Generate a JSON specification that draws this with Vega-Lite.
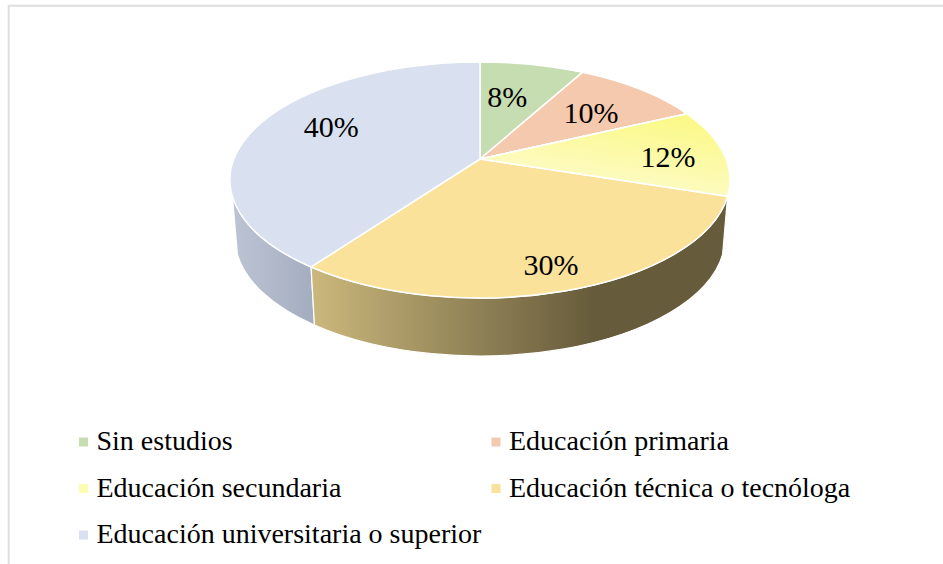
{
"$schema":"https://vega.github.io/schema/vega-lite/v6.json",
"width":935,"height":559,
"autosize":{"type":"none"},
"padding":{"left":8,"top":5,"right":0,"bottom":0},
"background":"white",
"view":{"stroke":null},
"data":{"values":[
{"categoria":"Sin estudios","pct":8},
{"categoria":"Educación primaria","pct":10},
{"categoria":"Educación secundaria","pct":12},
{"categoria":"Educación técnica o tecnóloga","pct":30},
{"categoria":"Educación universitaria o superior","pct":40}
]},
"transform":[
{"window":[{"op":"sum","field":"pct","as":"cum"}]},
{"calculate":"(datum.cum-datum.pct)/100*2*PI","as":"t0"},
{"calculate":"datum.cum/100*2*PI","as":"t1"},
{"calculate":"(datum.t0+datum.t1)/2","as":"tm"},
{"calculate":"round(10000*0.984*sin(datum.t0)/(1+0.178*cos(datum.t0)))/10000","as":"x0"},
{"calculate":"round(-10000*0.472*(cos(datum.t0)+0.178)/(1+0.178*cos(datum.t0)))/10000","as":"y0"},
{"calculate":"round(10000*0.984*sin(datum.t1)/(1+0.178*cos(datum.t1)))/10000","as":"x1"},
{"calculate":"round(-10000*0.472*(cos(datum.t1)+0.178)/(1+0.178*cos(datum.t1)))/10000","as":"y1"},
{"calculate":"'M0,-0.084 L'+datum.x0+','+datum.y0+' A1,0.472 0 0 1 '+datum.x1+','+datum.y1+' Z'","as":"tapa"},
{"calculate":"max(datum.t0,0.6*PI)","as":"a"},
{"calculate":"min(datum.t1,1.4*PI)","as":"b"},
{"calculate":"round(10000*0.984*sin(datum.a)/(1+0.178*cos(datum.a)))/10000","as":"xa"},
{"calculate":"round(-10000*0.472*(cos(datum.a)+0.178)/(1+0.178*cos(datum.a)))/10000","as":"ya"},
{"calculate":"round(10000*0.984*sin(datum.b)/(1+0.178*cos(datum.b)))/10000","as":"xb"},
{"calculate":"round(-10000*0.472*(cos(datum.b)+0.178)/(1+0.178*cos(datum.b)))/10000","as":"yb"},
{"calculate":"'M'+datum.xa+','+datum.ya+' A1,0.472 0 0 1 '+datum.xb+','+datum.yb+' L'+round(9800*datum.xb)/10000+','+round(10000*(datum.yb+0.232))/10000+' A0.98,0.472 0 0 0 '+round(9800*datum.xa)/10000+','+round(10000*(datum.ya+0.232))/10000+' Z'","as":"pared"},
{"calculate":"datum.categoria==='Sin estudios'?0.52:datum.categoria==='Educación primaria'?0.694:datum.categoria==='Educación secundaria'?0.774:datum.categoria==='Educación técnica o tecnóloga'?0.776:0.671","as":"fx"},
{"calculate":"datum.categoria==='Sin estudios'?0.657:datum.categoria==='Educación primaria'?0.66:datum.categoria==='Educación secundaria'?0.28:datum.categoria==='Educación técnica o tecnóloga'?0.81:0.955","as":"fy"},
{"calculate":"datum.fx*0.984*sin(datum.tm)/(1+0.178*cos(datum.tm))","as":"lx"},
{"calculate":"0.084+datum.fy*(0.472*(cos(datum.tm)+0.178)/(1+0.178*cos(datum.tm))-0.084)","as":"ly"},
{"calculate":"datum.pct+'%'","as":"etiqueta"}
],
"layer":[
{"transform":[{"filter":"datum.pct===8"}],"mark":{"type":"rule","color":"#dedede","strokeWidth":2},
 "encoding":{"x":{"datum":-1.8852,"type":"quantitative","scale":{"domain":[-1.888,1.852],"nice":false,"zero":false},"axis":null}}},
{"transform":[{"filter":"datum.pct===8"}],"mark":{"type":"rule","color":"#dedede","strokeWidth":2},
 "encoding":{"y":{"datum":0.6968,"type":"quantitative","scale":{"domain":[-1.536,0.7],"nice":false,"zero":false},"axis":null}}},
{"transform":[{"filter":"datum.categoria==='Educación universitaria o superior'"}],
 "mark":{"type":"point","filled":true,"size":250000,"opacity":1,"stroke":"white","strokeWidth":1.2,
  "fill":{"gradient":"linear","x1":0,"x2":1,"y1":0,"y2":0,"stops":[{"offset":0,"color":"#bcc4d4"},{"offset":1,"color":"#a4adbf"}]}},
 "encoding":{"x":{"datum":0,"type":"quantitative","scale":{"domain":[-1.888,1.852],"nice":false,"zero":false},"axis":null},
  "y":{"datum":0,"type":"quantitative","scale":{"domain":[-1.536,0.7],"nice":false,"zero":false},"axis":null},
  "shape":{"field":"pared","type":"nominal","scale":null}}},
{"transform":[{"filter":"datum.categoria==='Educación técnica o tecnóloga'"}],
 "mark":{"type":"point","filled":true,"size":250000,"opacity":1,"stroke":"white","strokeWidth":1.2,
  "fill":{"gradient":"linear","x1":0,"x2":1,"y1":0,"y2":0,"stops":[{"offset":0,"color":"#cbb87c"},{"offset":0.68,"color":"#665b3b"},{"offset":1,"color":"#665b3b"}]}},
 "encoding":{"x":{"datum":0,"type":"quantitative","scale":{"domain":[-1.888,1.852],"nice":false,"zero":false},"axis":null},
  "y":{"datum":0,"type":"quantitative","scale":{"domain":[-1.536,0.7],"nice":false,"zero":false},"axis":null},
  "shape":{"field":"pared","type":"nominal","scale":null}}},
{"mark":{"type":"point","filled":true,"size":250000,"opacity":1,"stroke":"white","strokeWidth":1.5},
 "encoding":{"x":{"datum":0,"type":"quantitative","scale":{"domain":[-1.888,1.852],"nice":false,"zero":false},"axis":null},
  "y":{"datum":0,"type":"quantitative","scale":{"domain":[-1.536,0.7],"nice":false,"zero":false},"axis":null},
  "shape":{"field":"tapa","type":"nominal","scale":null},
  "fill":{"field":"categoria","type":"nominal",
   "scale":{"domain":["Sin estudios","Educación secundaria","Educación universitaria o superior","Educación primaria","Educación técnica o tecnóloga"],"range":["#c6dcb1","#fdfcb0","#d9e0ef","#f5c9ad","#fbe29a"]},
   "legend":{"title":null,"orient":"none","legendX":61.5,"legendY":423,"columns":2,"symbolType":"square","symbolSize":81,"symbolStrokeWidth":0,"symbolOpacity":1,"labelFont":"Liberation Serif","labelFontSize":28,"labelColor":"black","labelOffset":-1,"labelLimit":600,"rowPadding":18.5,"columnPadding":0.5,"padding":0,"gridAlign":"each"}}}},
{"transform":[{"filter":"datum.categoria==='Educación secundaria'"}],
 "mark":{"type":"point","filled":true,"size":250000,"opacity":1,"stroke":"white","strokeWidth":1.5,
  "fill":{"gradient":"linear","x1":0.8,"x2":0.45,"y1":0.1,"y2":0.85,"stops":[{"offset":0,"color":"#fbf98a"},{"offset":1,"color":"#fdfbc4"}]}},
 "encoding":{"x":{"datum":0,"type":"quantitative","scale":{"domain":[-1.888,1.852],"nice":false,"zero":false},"axis":null},
  "y":{"datum":0,"type":"quantitative","scale":{"domain":[-1.536,0.7],"nice":false,"zero":false},"axis":null},
  "shape":{"field":"tapa","type":"nominal","scale":null}}},
{"mark":{"type":"text","font":"Liberation Serif","fontSize":30,"color":"black","baseline":"middle","align":"center","dy":1},
 "encoding":{"x":{"field":"lx","type":"quantitative","scale":{"domain":[-1.888,1.852],"nice":false,"zero":false},"axis":null},
  "y":{"field":"ly","type":"quantitative","scale":{"domain":[-1.536,0.7],"nice":false,"zero":false},"axis":null},
  "text":{"field":"etiqueta","type":"nominal"}}}
]
}
